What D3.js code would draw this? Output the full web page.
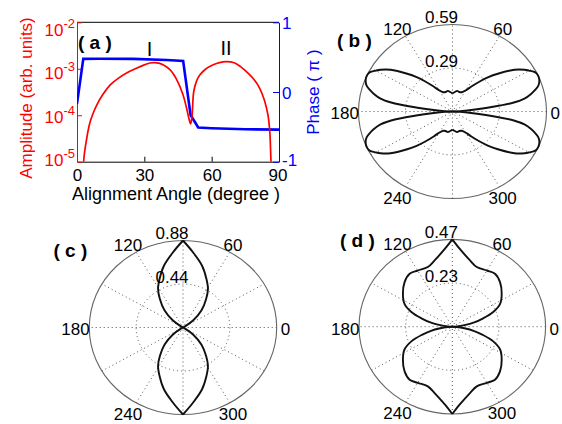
<!DOCTYPE html>
<html>
<head>
<meta charset="utf-8">
<script src="https://cdn.jsdelivr.net/npm/d3@7"></script>
<style>
  body { margin: 0; background: #fff; }
  text { font-family: Arial, "Liberation Sans", sans-serif; }
</style>
</head>
<body>
<svg id="fig" width="562" height="424"></svg>
<script>
// ---- panel (a) : amplitude (log) and phase against alignment angle
var ampAngle = [2.8, 3.3, 4.1, 5.0, 5.9, 7.5, 8.9, 11.5, 14.8, 18.5, 22.3, 26, 29.7, 32.5, 34.5, 36.5, 38.5, 41.5, 44.3, 47.2, 48.7, 50.0, 50.6, 51.2, 52, 53.3, 54.8, 57.5, 60.7, 63.5, 66.6, 70, 73, 75.5, 78.5, 81.4, 83.5, 85.1, 85.9, 86.3, 86.5];
var ampValue = [8e-6, 1.5e-5, 2.7e-5, 4.8e-5, 7.3e-5, 1.2e-4, 1.7e-4, 2.8e-4, 4.5e-4, 6.3e-4, 8.2e-4, 1.0e-3, 1.2e-3, 1.33e-3, 1.36e-3, 1.32e-3, 1.2e-3, 9.5e-4, 6.0e-4, 2.8e-4, 1.5e-4, 8e-5, 6.5e-5, 9e-5, 3.2e-4, 5.5e-4, 7.4e-4, 1.0e-3, 1.22e-3, 1.36e-3, 1.42e-3, 1.35e-3, 1.1e-3, 8.7e-4, 6.2e-4, 3.8e-4, 2.1e-4, 1.0e-4, 4.4e-5, 1.5e-5, 8e-6];
var phaseAngle = [0, 2.8, 10, 25, 40, 47.3, 50.6, 54, 60, 75, 90];
var phaseValue = [-0.17, 0.475, 0.478, 0.475, 0.46, 0.445, -0.33, -0.51, -0.52, -0.535, -0.54];
var angleTicks = [0, 30, 60, 90];
var ampTicks = [1e-5, 1e-4, 1e-3, 1e-2];
var phaseTicks = [-1, 0, 1];

// ---- polar panels, read over 0..90 deg (patterns are mirror symmetric about both axes)
var bDeg = [0, 3, 5, 7, 9, 11, 13.6, 16, 18, 21, 24, 27, 30, 32, 36, 42, 46, 50, 55, 59, 66, 72, 78, 84, 90];
var bR   = [0, 0.047, 0.117, 0.246, 0.387, 0.457, 0.504, 0.539, 0.563, 0.580, 0.586, 0.580, 0.551, 0.530, 0.478, 0.380, 0.322, 0.264, 0.205, 0.170, 0.142, 0.138, 0.142, 0.132, 0.121];
var cDeg = [0, 25, 30, 37, 45, 53, 59, 66, 74, 83, 90];
var cR   = [0, 0, 0.018, 0.121, 0.246, 0.361, 0.455, 0.540, 0.650, 0.767, 0.88];
var dDeg = [0, 4, 8, 12, 16, 21, 27, 35.5, 45, 53, 60, 69, 76, 85, 90];
var dR   = [0, 0.023, 0.061, 0.112, 0.158, 0.219, 0.268, 0.303, 0.337, 0.354, 0.346, 0.341, 0.365, 0.418, 0.466];
var spokeDeg = [30, 60, 90, 120, 150, 180];
var spokeLabels = [0, 60, 120, 180, 240, 300];

var svg = d3.select("#fig");
svg.append("rect").attr("width", 562).attr("height", 424).attr("fill", "#fff");

// ================= panel (a)
var x = d3.scaleLinear().domain([0, 90]).range([77, 279]);
var yAmp = d3.scaleLog().domain([1e-5, 1e-2]).range([161.7, 22.3]);
var yPh = d3.scaleLinear().domain([-1, 1]).range([161.7, 22.3]);

svg.append("clipPath").attr("id", "clipA")
  .append("rect").attr("x", 77).attr("y", 22.3).attr("width", 202).attr("height", 139.4);

// top spine
svg.append("line").attr("x1", 77).attr("x2", 279).attr("y1", 22.3).attr("y2", 22.3)
  .attr("stroke", "#000").attr("stroke-width", 1);

var gx = svg.append("g").attr("transform", "translate(0,161.7)")
  .call(d3.axisBottom(x).tickValues(angleTicks).tickSizeInner(-5).tickSizeOuter(0).tickPadding(7));
gx.select(".domain").attr("stroke", "#000");
gx.selectAll("text").attr("font-size", 17).attr("font-family", null).attr("fill", "#000");
gx.selectAll("text").filter(function(d) { return d === 90; }).attr("dx", -1.5);

var gl = svg.append("g").attr("transform", "translate(77,0)")
  .call(d3.axisLeft(yAmp).tickValues(ampTicks).tickSizeInner(-5).tickSizeOuter(0).tickFormat(""));
gl.select(".domain").attr("stroke", "#f00");
gl.selectAll("line").attr("stroke", "#f00");

var gr = svg.append("g").attr("transform", "translate(279,0)")
  .call(d3.axisRight(yPh).tickValues(phaseTicks).tickSizeInner(-6).tickSizeOuter(0).tickPadding(3)
    .tickFormat(function(d) { return String(d); }));
gr.select(".domain").attr("stroke", "#00f");
gr.selectAll("line").attr("stroke", "#00f");
gr.selectAll("text").attr("font-size", 17).attr("font-family", null).attr("fill", "#00f").attr("dy", "0.36em");
gr.selectAll("text").filter(function(d) { return d === -1; }).attr("dy", "0.2em");

// log tick labels 10^n
ampTicks.forEach(function(v) {
  var cyl = 92 + (yAmp(v) - 92) * 0.93 + 3;
  var t = svg.append("text").attr("x", 75).attr("y", cyl + 6).attr("text-anchor", "end")
    .attr("fill", "#f00").attr("font-size", 17);
  t.append("tspan").text("10");
  t.append("tspan").attr("dy", -8).attr("font-size", 13).text(String(Math.round(Math.log10(v))));
});

svg.append("text").attr("transform", "translate(26,98) rotate(-90)")
  .attr("text-anchor", "middle").attr("dy", "0.35em").attr("fill", "#f00").attr("font-size", 17)
  .text("Amplitude (arb. units)");
svg.append("text").attr("transform", "translate(313,92) rotate(-90)")
  .attr("text-anchor", "middle").attr("dy", "0.35em").attr("fill", "#00f").attr("font-size", 17)
  .text("Phase ( \u03c0 )");
svg.append("text").attr("x", 176).attr("y", 200).attr("text-anchor", "middle")
  .attr("font-size", 18).text("Alignment Angle (degree )");

var plotA = svg.append("g").attr("clip-path", "url(#clipA)");
plotA.append("path")
  .datum(d3.zip(phaseAngle, phaseValue))
  .attr("d", d3.line().x(function(d) { return x(d[0]); }).y(function(d) { return yPh(d[1]); }))
  .attr("fill", "none").attr("stroke", "#00f").attr("stroke-width", 2.6);
plotA.append("path")
  .datum(d3.zip(ampAngle, ampValue))
  .attr("d", d3.line().x(function(d) { return x(d[0]); }).y(function(d) { return yAmp(d[1]); })
    .curve(d3.curveCatmullRom.alpha(0.5)))
  .attr("fill", "none").attr("stroke", "#f00").attr("stroke-width", 1.7);

svg.append("text").attr("x", 78).attr("y", 48.5).attr("font-size", 19).attr("font-weight", "bold").text("( a )");
svg.append("text").attr("x", 149.5).attr("y", 56).attr("text-anchor", "middle").attr("font-size", 20).text("I");
svg.append("text").attr("x", 226).attr("y", 55).attr("text-anchor", "middle").attr("font-size", 20).text("II");

// ================= polar panels
var quadrants = [
  function(a) { return a; },
  function(a) { return 180 - a; },
  function(a) { return 180 + a; },
  function(a) { return 360 - a; }
];

function polar(p) {
  var g = svg.append("g");
  var sx = d3.scaleLinear().domain([0, p.rmax]).range([0, p.rx]);
  var sy = d3.scaleLinear().domain([0, p.rmax]).range([0, p.ry]);
  var rad = Math.PI / 180;

  // spokes
  spokeDeg.forEach(function(a) {
    g.append("line")
      .attr("x1", p.cx - sx(p.rmax) * Math.cos(a * rad)).attr("y1", p.cy + sy(p.rmax) * Math.sin(a * rad))
      .attr("x2", p.cx + sx(p.rmax) * Math.cos(a * rad)).attr("y2", p.cy - sy(p.rmax) * Math.sin(a * rad))
      .attr("stroke", "#555").attr("stroke-width", 1).attr("stroke-dasharray", "1,3");
  });
  // rings
  g.append("ellipse").attr("cx", p.cx).attr("cy", p.cy).attr("rx", sx(p.rmax / 2)).attr("ry", sy(p.rmax / 2))
    .attr("fill", "none").attr("stroke", "#555").attr("stroke-dasharray", "1,3");
  g.append("ellipse").attr("cx", p.cx).attr("cy", p.cy).attr("rx", sx(p.rmax)).attr("ry", sy(p.rmax))
    .attr("fill", "none").attr("stroke", "#666").attr("stroke-width", 1.1);

  // curve, one open piece per quadrant
  var line = d3.line()
    .x(function(d) { return p.cx + sx(d[1]) * Math.cos(d[0] * rad); })
    .y(function(d) { return p.cy - sy(d[1]) * Math.sin(d[0] * rad); })
    .curve(d3.curveCatmullRom.alpha(0.5));
  quadrants.forEach(function(q) {
    g.append("path")
      .datum(p.deg.map(function(a, i) { return [q(a), p.r[i]]; }))
      .attr("d", line)
      .attr("fill", "none").attr("stroke", "#111").attr("stroke-width", 1.9)
      .attr("stroke-linejoin", "round");
  });

  // angle labels
  spokeLabels.forEach(function(a) {
    g.append("text")
      .attr("x", p.cx - 2.5 + 1.12 * sx(p.rmax) * Math.cos(a * rad))
      .attr("y", p.cy + 2 - 1.12 * sy(p.rmax) * Math.sin(a * rad))
      .attr("dy", "0.35em").attr("text-anchor", "middle").attr("font-size", 17)
      .text(a);
  });
  // ring labels
  var f = d3.format(".2f");
  [p.rmax / 2, p.rmax].forEach(function(v) {
    g.append("text").attr("x", p.cx - 11).attr("y", p.cy - sy(v) - 1.5)
      .attr("text-anchor", "middle").attr("font-size", 17).text(f(v));
  });
  g.append("text").attr("x", p.lx).attr("y", p.ly).attr("font-size", 19).attr("font-weight", "bold").text(p.name);
}

polar({ cx: 452.5, cy: 111.5, rx: 94, ry: 87, rmax: 0.586, deg: bDeg, r: bR, name: "( b )", lx: 337, ly: 47 });
polar({ cx: 183, cy: 327.5, rx: 93.7, ry: 87, rmax: 0.88, deg: cDeg, r: cR, name: "( c )", lx: 53.5, ly: 257 });
polar({ cx: 452.3, cy: 326.7, rx: 93.3, ry: 87.3, rmax: 0.466, deg: dDeg, r: dR, name: "( d )", lx: 340, ly: 247 });
</script>
</body>
</html>
